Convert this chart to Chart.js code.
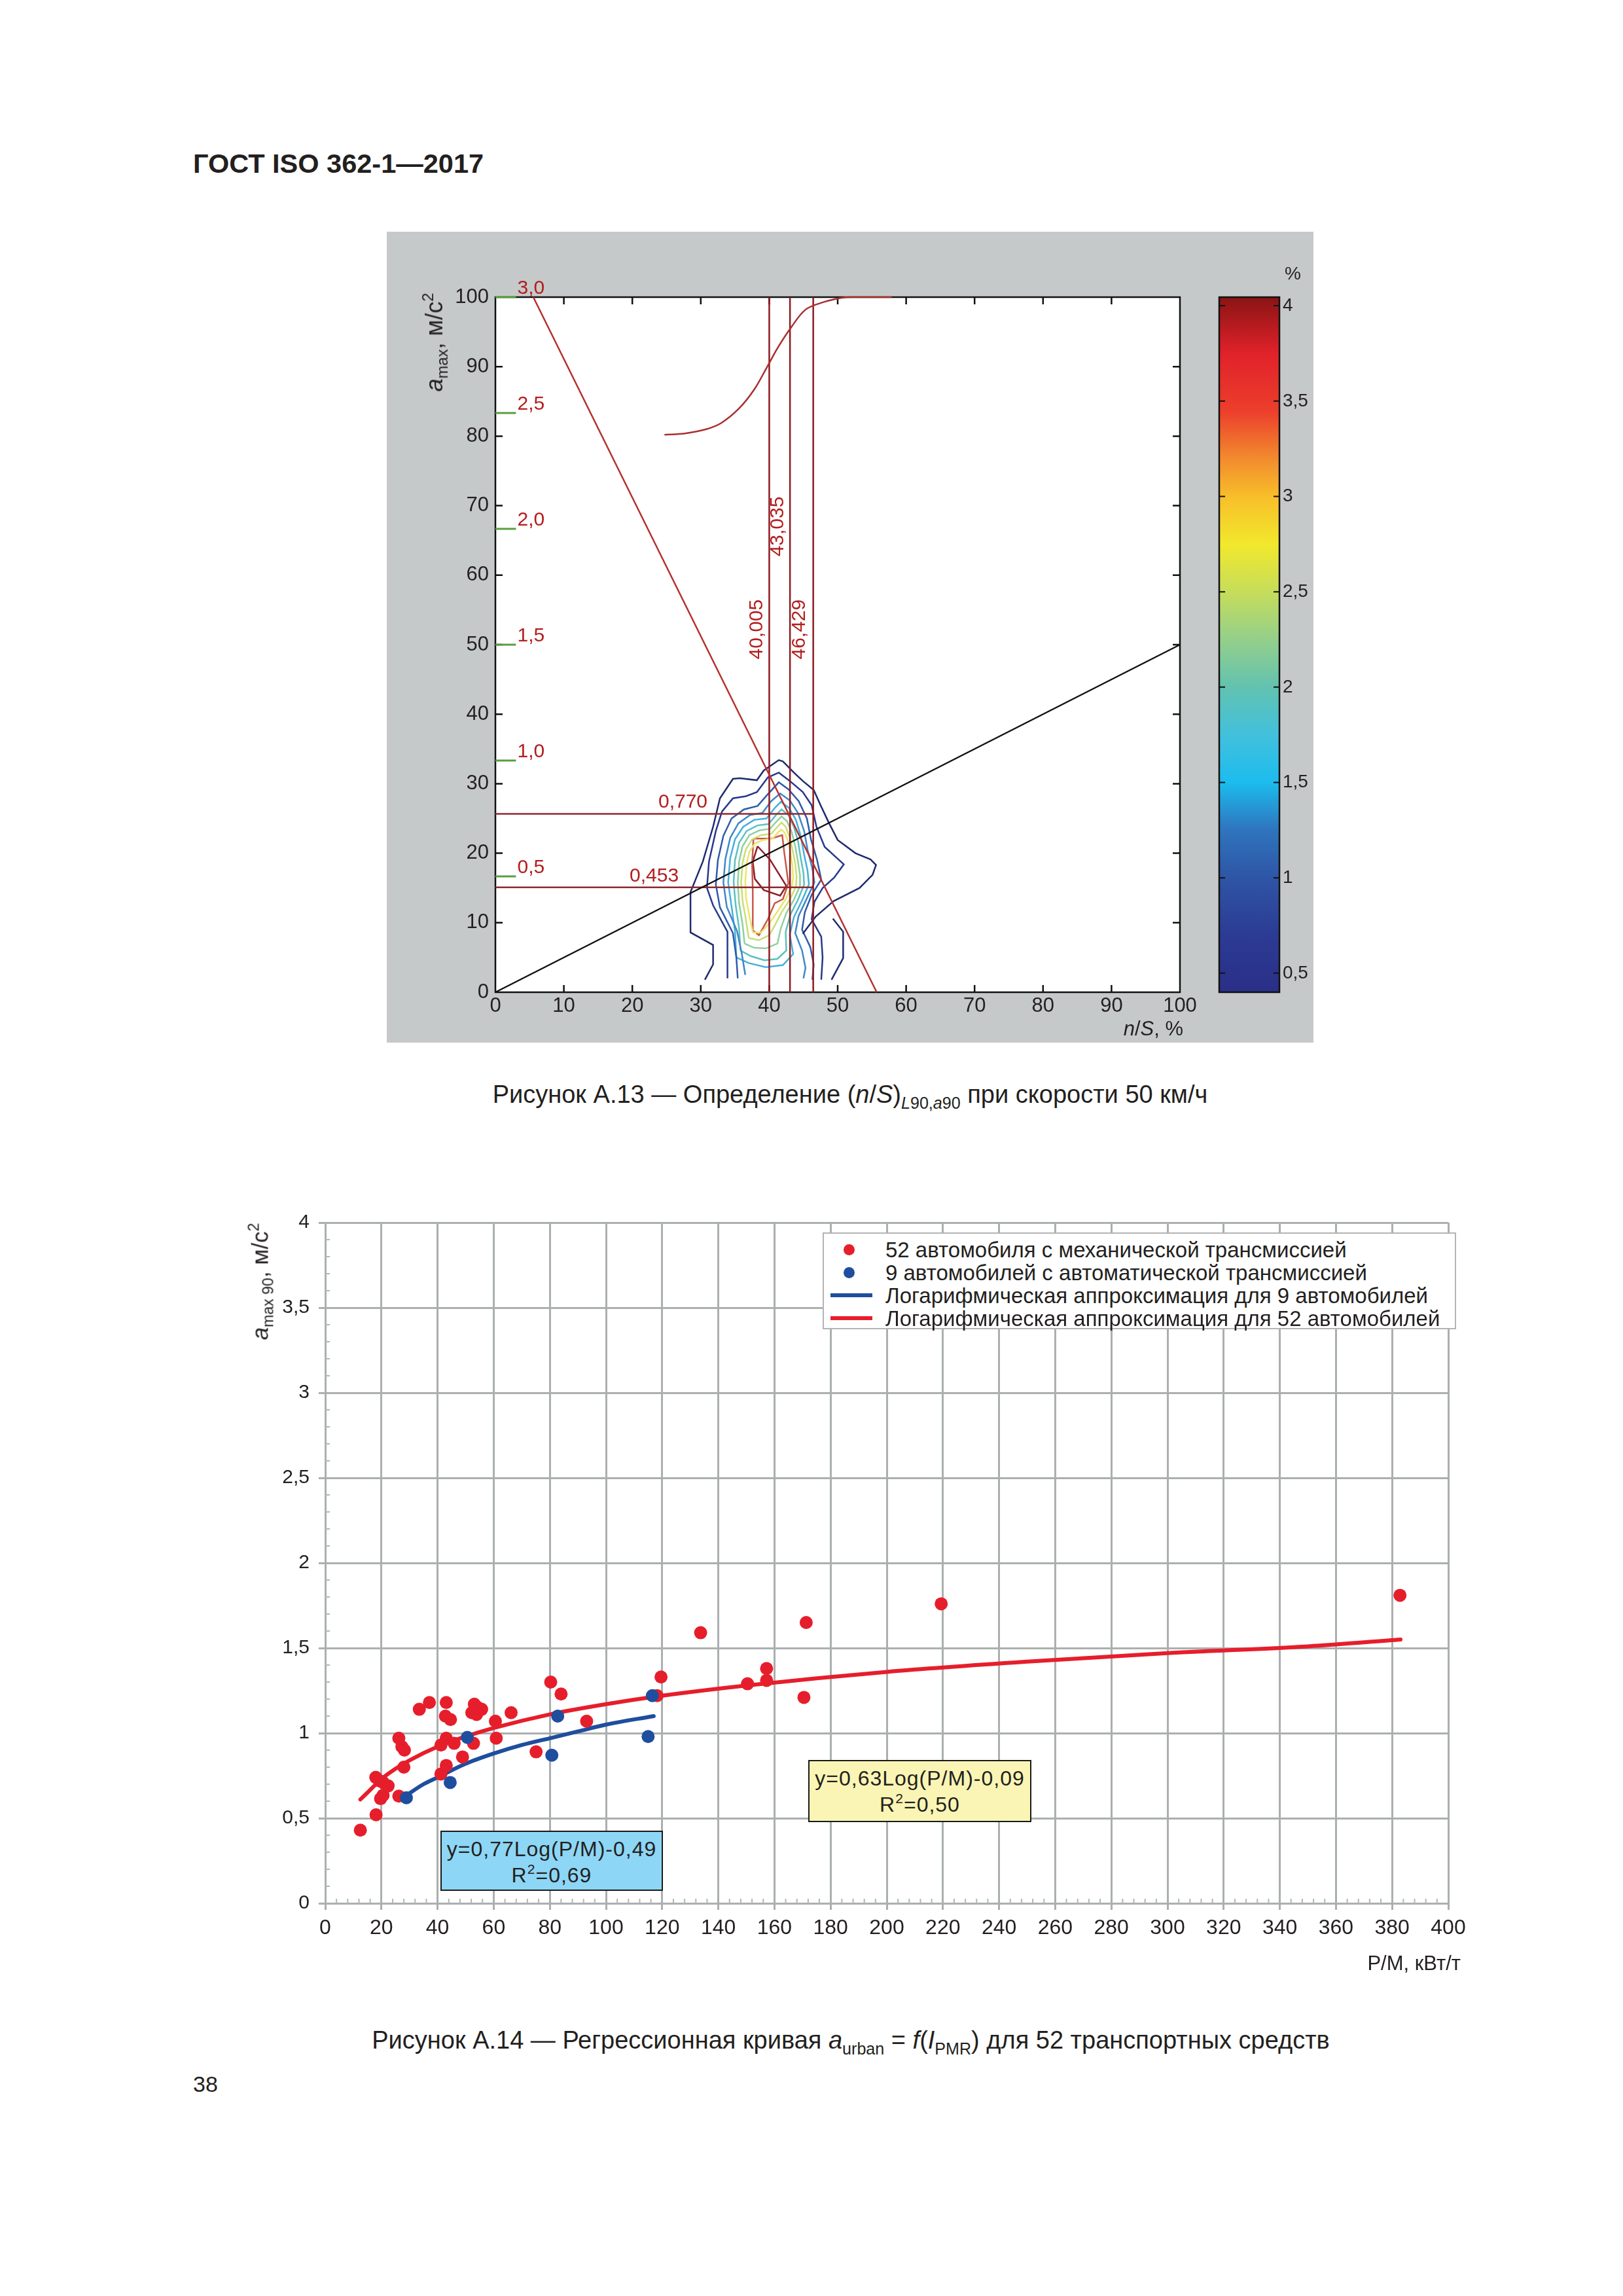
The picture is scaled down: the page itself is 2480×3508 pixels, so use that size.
<!DOCTYPE html>
<html lang="ru"><head><meta charset="utf-8"><title>ГОСТ ISO 362-1—2017</title>
<script src="https://cdn.jsdelivr.net/npm/chart.js@4.4.1/dist/chart.umd.min.js"></script>
<style>
html,body{margin:0;padding:0;background:#fff}
#page{position:relative;width:2480px;height:3508px;overflow:hidden;background:#fff;font-family:"Liberation Sans",Arial,Helvetica,sans-serif;color:#231f20}
.t{position:absolute;white-space:nowrap;line-height:1}
.cw{position:absolute}
.cw canvas{display:block}
sub,sup{font-size:66%;line-height:0;position:relative;vertical-align:baseline}
sub{top:0.35em} sup{top:-0.6em}
.box{position:absolute;box-sizing:border-box;border:2.5px solid #1a1a1a;text-align:center;font-size:32px;line-height:40px;letter-spacing:1px;padding-top:6px;white-space:nowrap}
#legend{position:absolute;left:1257px;top:1883px;width:968px;height:148px;box-sizing:border-box;border:2px solid #b4b4b4;background:#fff}
#legend .row{position:absolute;left:94px;font-size:33px;line-height:1;white-space:nowrap}
#legend .dot{position:absolute;left:30px;width:17px;height:17px;border-radius:50%}
#legend .ln{position:absolute;left:10px;width:64px;height:6px}
</style></head><body><div id="page">

<div class="t" style="left:295px;top:229px;font-size:41.5px;font-weight:bold">ГОСТ ISO 362-1—2017</div>

<div class="cw" style="left:591px;top:354px;width:1416px;height:1239px"><canvas id="figA13"></canvas></div>
<div class="cw" style="left:1830px;top:380px;width:177px;height:1213px"><canvas id="figA13bar"></canvas></div>
<div class="t" style="left:664px;top:523px;font-size:36px;transform:translate(-50%,-50%) rotate(-90deg)"><i>a</i><sub>max</sub>, м/с<sup>2</sup></div>
<div class="t" style="right:672px;top:1556px;font-size:31px"><i>n</i>/<i>S</i>, %</div>
<div class="t" style="left:1963px;top:404px;font-size:28px">%</div>
<div class="t" style="left:1299px;top:1653px;font-size:38px;transform:translateX(-50%)">Рисунок А.13 — Определение (<i>n</i>/<i>S</i>)<sub><i>L</i>90,<i>a</i>90</sub> при скорости 50 км/ч</div>

<div class="cw" style="left:300px;top:1800px;width:1960px;height:1200px"><canvas id="figA14"></canvas></div>
<div class="t" style="left:397px;top:1958px;font-size:35px;transform:translate(-50%,-50%) rotate(-90deg)"><i>a</i><sub>max 90</sub>, м/с<sup>2</sup></div>
<div class="t" style="right:248px;top:2984px;font-size:31px">P/M, кВт/т</div>

<div id="legend">
  <span class="dot" style="top:16px;background:#e61e2b"></span><div class="row" style="top:8px">52 автомобиля с механической трансмиссией</div>
  <span class="dot" style="top:51px;background:#1f4e9e"></span><div class="row" style="top:43px">9 автомобилей с автоматической трансмиссией</div>
  <span class="ln" style="top:91px;background:#1f4e9e"></span><div class="row" style="top:78px">Логарифмическая аппроксимация для 9 автомобилей</div>
  <span class="ln" style="top:126px;background:#e61e2b"></span><div class="row" style="top:113px">Логарифмическая аппроксимация для 52 автомобилей</div>
</div>

<div class="box" style="left:1235px;top:2689px;width:341px;height:95px;background:#faf5b4">y=0,63Log(P/M)-0,09<br>R<sup>2</sup>=0,50</div>
<div class="box" style="left:673px;top:2797px;width:340px;height:92px;background:#8dd6f5">y=0,77Log(P/M)-0,49<br>R<sup>2</sup>=0,69</div>

<div class="t" style="left:1300px;top:3098px;font-size:38px;transform:translateX(-50%)">Рисунок А.14 — Регрессионная кривая <i>a</i><sub>urban</sub> = <i>f</i>(<i>I</i><sub>PMR</sub>) для 52 транспортных средств</div>
<div class="t" style="left:295px;top:3167px;font-size:34px">38</div>
</div>

<script>
// ================= Figure A.13 data =================
const nsTicks = [0, 10, 20, 30, 40, 50, 60, 70, 80, 90, 100];
const amaxTicks = [0, 10, 20, 30, 40, 50, 60, 70, 80, 90, 100];
const accelValues = [0.5, 1.0, 1.5, 2.0, 2.5, 3.0];          // м/с², 3,0 ↔ 100 on the left axis
const accelLabels = ['0,5', '1,0', '1,5', '2,0', '2,5', '3,0'];
const markerXs = [40.005, 43.035, 46.429];
const markerLabels = ['40,005', '43,035', '46,429'];
const levelValues = [0.770, 0.453];
const levelLabels = ['0,770', '0,453'];
const diagX = [5.54, 55.7];
const diagY = [100, 0];
const refX = [0, 100];
const refY = [0, 50];
const sCurveX = [24.7, 27.7, 30.8, 33.0, 35.6, 37.8, 39.6, 41.3, 43.1, 45.3, 48.0, 50.6, 51.9, 57.9];
const sCurveY = [80.2, 80.4, 81.0, 81.9, 84.0, 86.7, 89.8, 92.8, 95.5, 98.2, 99.3, 99.9, 100, 100];

const contour1 = [[30.6,1.8],[31.8,4.0],[31.8,6.8],[28.5,8.6],[28.5,14.4],[30.3,18.8],[31.8,23.8],[32.8,27.9],[34.7,30.7],[35.7,30.8],[38.2,30.5],[39.2,31.9],[41.4,33.4],[42.0,33.2],[43.6,31.6],[44.9,30.4],[46.5,29.1],[47.5,26.9],[48.7,24.4],[50.0,21.9],[52.6,20.0],[54.8,19.1],[55.6,18.3],[55.1,16.9],[53.2,15.0],[49.4,13.1],[46.8,10.9],[44.9,8.4]];
const contour1b = [[49.1,1.8],[50.8,4.9],[50.8,8.7],[49.3,10.6]];
const contour2 = [[33.9,2.0],[33.9,5.5],[33.9,8.7],[31.8,12.5],[30.9,15.0],[31.2,18.8],[32.2,23.2],[33.1,26.0],[34.7,27.9],[36.6,28.2],[38.2,28.8],[39.8,30.9],[41.4,31.6],[43.0,30.4],[44.9,28.8],[46.2,26.9],[46.9,23.8],[48.1,20.9],[50.9,18.4],[49.5,16.5],[47.8,15.0],[46.6,13.0],[46.2,10.5],[47.6,8.0],[47.8,5.0],[47.6,1.8]];
const contour3 = [[35.4,2.0],[35.2,5.0],[34.7,8.5],[32.8,12.2],[32.2,15.5],[32.5,19.0],[33.3,22.5],[34.5,25.0],[36.3,26.3],[38.3,26.8],[39.8,28.5],[41.4,30.2],[42.8,29.2],[44.3,27.5],[45.5,25.0],[46.1,22.0],[47.0,19.0],[47.6,16.2],[46.2,14.0],[45.2,11.5],[44.8,9.0],[46.0,6.5],[46.5,4.0],[46.3,1.8]];
const contour4 = [[36.5,2.5],[36.0,5.5],[35.3,8.8],[33.8,12.3],[33.3,15.8],[33.6,19.2],[34.3,22.2],[35.5,24.3],[37.2,25.5],[39.0,25.8],[40.3,27.5],[41.6,28.6],[43.0,27.6],[44.2,25.8],[45.1,23.2],[45.6,20.5],[46.3,17.8],[46.6,15.8],[45.5,13.5],[44.3,11.0],[43.8,8.5],[44.8,6.0],[45.3,3.5],[45.0,2.0]];
const contour5 = [[35.2,5.0],[35.0,8.8],[34.5,12.3],[34.0,15.8],[34.3,19.3],[35.0,22.0],[36.2,23.8],[37.8,24.8],[39.6,25.0],[40.8,26.5],[41.7,27.4],[42.9,26.5],[43.9,24.8],[44.6,22.5],[45.1,19.8],[45.6,17.5],[45.8,15.5],[44.8,13.2],[43.6,10.8],[43.0,8.3],[43.5,5.5],[42.0,3.9],[39.5,3.6],[37.0,4.2],[35.2,5.0]];
const contour6 = [[35.8,6.0],[35.6,9.2],[35.1,12.5],[34.8,15.8],[35.0,19.0],[35.6,21.5],[36.7,23.2],[38.3,24.0],[39.9,24.2],[41.0,25.5],[41.8,26.3],[42.8,25.5],[43.6,23.8],[44.2,21.8],[44.6,19.3],[45.0,17.2],[45.1,15.5],[44.2,13.3],[43.1,11.2],[42.4,8.7],[42.5,6.0],[41.2,4.8],[39.3,4.6],[37.3,5.2],[35.8,6.0]];
const contour7 = [[36.4,7.0],[36.1,9.8],[35.6,12.8],[35.4,15.8],[35.6,18.8],[36.1,21.0],[37.1,22.6],[38.6,23.3],[40.1,23.5],[41.1,24.6],[41.8,25.3],[42.6,24.6],[43.3,23.0],[43.8,21.0],[44.2,18.8],[44.5,16.8],[44.5,15.3],[43.6,13.3],[42.5,11.4],[41.7,9.2],[41.2,7.0],[39.5,6.3],[37.8,6.4],[36.4,7.0]];
const contour8 = [[37.0,7.8],[36.6,10.4],[36.1,13.2],[35.9,15.8],[36.1,18.6],[36.6,20.6],[37.5,22.0],[38.8,22.6],[40.3,22.8],[41.2,23.8],[41.8,24.4],[42.4,23.8],[43.0,22.3],[43.4,20.5],[43.8,18.5],[44.0,16.6],[43.9,15.2],[43.0,13.3],[41.8,11.5],[40.8,9.6],[40.0,8.2],[38.5,7.5],[37.0,7.8]];
const contour9 = [[37.6,8.6],[37.1,11.0],[36.6,13.6],[36.5,16.0],[36.7,18.5],[37.1,20.2],[37.9,21.4],[39.1,21.9],[40.5,22.1],[41.3,23.0],[41.8,23.4],[42.3,22.9],[42.8,21.6],[43.1,20.0],[43.4,18.2],[43.5,16.5],[43.3,15.2],[42.4,13.4],[41.2,11.6],[40.0,9.9],[38.8,8.6],[37.6,8.6]];
const contour10 = [[37.7,22.1],[40.3,22.1],[41.9,22.6],[42.2,20.1],[42.8,15.7],[42.0,13.4],[40.8,12.8],[39.8,10.5],[38.5,8.2],[37.6,8.9],[37.6,14.3],[37.5,18.5],[37.7,22.1]];
const contour11 = [[38.3,21.0],[40.1,19.1],[42.5,15.3],[41.6,13.9],[39.2,14.7],[37.9,16.3],[37.6,18.8],[38.3,21.0]];
const contourColors = ['#1f2b6e','#1f2b6e','#26398c','#2f5aa8','#3f88c8','#45b0dc','#5cc0c0','#8fd0a0','#c8df78','#ece56a','#c8584a','#8e1f2a'];

const colorbarTicks = [0.5, 1, 1.5, 2, 2.5, 3, 3.5, 4];
const colorbarStops = [0.4, 0.7, 1.0, 1.25, 1.5, 1.75, 2.0, 2.25, 2.5, 2.75, 3.0, 3.2, 3.45, 3.75, 4.045];
const colorbarColors = ['#2a2f86','#2c3b94','#2e55a6','#2f74bd','#1cbcee','#42c0dc','#62c2b0','#94cf8a','#c6dd5a','#f2e82c','#f8be2a','#f28a2e','#ec3e2c','#e0222a','#8a1414'];
const colorbarMin = 0.4, colorbarMax = 4.045;

// ================= Figure A.14 data =================
const pmrTicks = [0,20,40,60,80,100,120,140,160,180,200,220,240,260,280,300,320,340,360,380,400];
const accTicks = [0, 0.5, 1, 1.5, 2, 2.5, 3, 3.5, 4];
const manualPMR = [12.5,18.1,19.7,20.6,18.0,19.3,20.6,22.4,26.2,26.2,27.3,28.2,28.0,33.5,37.1,43.1,42.8,44.6,43.1,41.2,45.9,41.2,43.1,48.9,52.8,52.2,53.9,54.4,55.7,53.1,60.6,60.9,66.2,75.1,80.3,84.0,93.1,118.2,119.6,133.7,150.4,157.2,157.2,170.5,171.3,219.4,382.8];
const manualAcc = [0.43,0.52,0.615,0.635,0.74,0.72,0.71,0.69,0.63,0.97,0.92,0.90,0.80,1.14,1.18,1.18,1.10,1.08,0.97,0.93,0.94,0.76,0.81,0.86,0.94,1.12,1.11,1.15,1.14,1.17,1.07,0.97,1.12,0.89,1.30,1.23,1.07,1.22,1.33,1.59,1.29,1.38,1.31,1.21,1.65,1.76,1.81];
const autoPMR = [28.9, 44.5, 50.6, 80.7, 82.8, 115.0, 116.5];
const autoAcc = [0.62, 0.71, 0.975, 0.87, 1.10, 0.98, 1.22];
const manualFitPMR = [12.5, 15, 20, 25, 30, 40, 50, 60, 80, 100, 120, 150, 200, 250, 300, 350, 383];
const manualFitAcc = [0.61, 0.65, 0.73, 0.79, 0.84, 0.92, 0.98, 1.03, 1.11, 1.17, 1.22, 1.28, 1.36, 1.42, 1.47, 1.51, 1.55];
const autoFitPMR = [28.5, 35, 40, 50, 60, 70, 80, 90, 100, 117];
const autoFitAcc = [0.63, 0.70, 0.74, 0.82, 0.88, 0.93, 0.97, 1.01, 1.05, 1.10];

// ================= helpers =================
const FONT = '"Liberation Sans", Arial, Helvetica, sans-serif';
Chart.defaults.font.family = FONT;
Chart.defaults.color = '#231f20';
const comma = v => String(v).replace('.', ',');
const pts = (xs, ys) => xs.map((x, i) => ({x: x, y: ys[i]}));
const pairPts = arr => arr.map(p => ({x: p[0], y: p[1]}));
const lineDs = (data, color, width, order, extra) => Object.assign({
  data: data, showLine: true, borderColor: color, backgroundColor: color, borderWidth: width,
  pointRadius: 0, pointHoverRadius: 0, order: order, clip: false, tension: 0
}, extra || {});
const RED_TXT = '#b41e1e';
const clamp01 = v => Math.min(1, Math.max(0, v));

// ================= Figure A.13 =================
const toAxis = a => a / 3 * 100;
const contours = [contour1, contour1b, contour2, contour3, contour4, contour5, contour6, contour7, contour8, contour9, contour10, contour11];
const a13Datasets = [];
a13Datasets.push(lineDs(pts(refX, refY), '#111111', 2.5, 1));
a13Datasets.push(lineDs(pts(diagX, diagY), '#b3312f', 2.5, 2));
a13Datasets.push(lineDs(pts(sCurveX, sCurveY), '#a8302e', 2.5, 3, {tension: 0.35}));
markerXs.forEach(x => a13Datasets.push(lineDs(pts([x, x], [0, 100]), '#8e1b22', 2.5, 4)));
levelValues.forEach(v => a13Datasets.push(lineDs(pts([0, markerXs[2]], [toAxis(v), toAxis(v)]), '#8e2a2e', 2.5, 5)));
accelValues.forEach(a => a13Datasets.push(lineDs(pts([0, 3], [toAxis(a), toAxis(a)]), '#5a9e3e', 3, 0)));
contours.forEach((c, i) => a13Datasets.push(lineDs(pairPts(c), contourColors[i], 2.5, 10 + i)));

const a13Decor = {
  id: 'a13Decor',
  beforeDraw(chart) {
    const c = chart.ctx, a = chart.chartArea;
    c.save();
    c.fillStyle = '#c6c9c9';
    c.fillRect(0, 0, chart.width, chart.height);
    c.fillStyle = '#ffffff';
    c.fillRect(a.left, a.top, a.right - a.left, a.bottom - a.top);
    c.restore();
  },
  beforeDatasetsDraw(chart) {
    const c = chart.ctx, a = chart.chartArea, xs = chart.scales.x, ys = chart.scales.y;
    c.save();
    c.strokeStyle = '#111'; c.lineWidth = 2.5;
    c.strokeRect(a.left, a.top, a.right - a.left, a.bottom - a.top);
    c.beginPath();
    nsTicks.slice(1, -1).forEach(v => {
      const px = xs.getPixelForValue(v);
      c.moveTo(px, a.bottom); c.lineTo(px, a.bottom - 11);
      c.moveTo(px, a.top); c.lineTo(px, a.top + 11);
    });
    amaxTicks.slice(1, -1).forEach(v => {
      const py = ys.getPixelForValue(v);
      c.moveTo(a.left, py); c.lineTo(a.left + 11, py);
      c.moveTo(a.right, py); c.lineTo(a.right - 11, py);
    });
    c.stroke();
    c.restore();
  },
  afterDatasetsDraw(chart) {
    const c = chart.ctx, xs = chart.scales.x, ys = chart.scales.y;
    c.save();
    c.fillStyle = RED_TXT;
    c.font = '30px ' + FONT;
    c.textAlign = 'left'; c.textBaseline = 'alphabetic';
    accelValues.forEach((a, i) => c.fillText(accelLabels[i], xs.getPixelForValue(3.2), ys.getPixelForValue(toAxis(a)) - 5));
    const levelLabelX = [23.8, 19.6];
    levelValues.forEach((v, i) => c.fillText(levelLabels[i], xs.getPixelForValue(levelLabelX[i]), ys.getPixelForValue(toAxis(v)) - 9));
    const markerLabelPos = [[38.25, 52.2], [41.3, 67.0], [44.45, 52.2]];
    markerLabels.forEach((t, i) => {
      c.save();
      c.translate(xs.getPixelForValue(markerLabelPos[i][0]), ys.getPixelForValue(markerLabelPos[i][1]));
      c.rotate(-Math.PI / 2);
      c.textAlign = 'center'; c.textBaseline = 'middle';
      c.fillText(t, 0, 0);
      c.restore();
    });
    c.restore();
  }
};

new Chart(document.getElementById('figA13'), {
  type: 'scatter',
  data: {datasets: a13Datasets},
  options: {
    responsive: true, maintainAspectRatio: false, animation: false, devicePixelRatio: 1,
    events: [],
    layout: {padding: {left: 96, top: 100, right: 204, bottom: 27}},
    plugins: {legend: {display: false}, tooltip: {enabled: false}},
    scales: {
      x: {
        type: 'linear', min: 0, max: 100,
        afterBuildTicks: s => { s.ticks = nsTicks.map(v => ({value: v})); },
        afterFit: s => { s.height = 50; },
        grid: {display: false, drawTicks: false}, border: {display: false},
        ticks: {padding: 3, color: '#231f20', font: {size: 31}, maxRotation: 0, autoSkip: false}
      },
      y: {
        type: 'linear', min: 0, max: 100,
        afterBuildTicks: s => { s.ticks = amaxTicks.map(v => ({value: v})); },
        afterFit: s => { s.width = 70; },
        grid: {display: false, drawTicks: false}, border: {display: false},
        ticks: {padding: 10, color: '#231f20', font: {size: 31}, autoSkip: false}
      }
    }
  },
  plugins: [a13Decor]
});

// colour bar
const barDecor = {
  id: 'barDecor',
  afterDatasetsDraw(chart) {
    const c = chart.ctx, a = chart.chartArea, ys = chart.scales.y;
    c.save();
    c.strokeStyle = '#111'; c.lineWidth = 2.5;
    c.strokeRect(a.left, a.top, a.right - a.left, a.bottom - a.top);
    c.lineWidth = 2;
    c.beginPath();
    colorbarTicks.forEach(v => {
      const py = ys.getPixelForValue(v);
      c.moveTo(a.left, py); c.lineTo(a.left + 9, py);
      c.moveTo(a.right, py); c.lineTo(a.right - 9, py);
    });
    c.stroke();
    c.restore();
  }
};
new Chart(document.getElementById('figA13bar'), {
  type: 'bar',
  data: {
    labels: ['%'],
    datasets: [{
      data: [[colorbarMin, colorbarMax]],
      barPercentage: 1, categoryPercentage: 1, borderWidth: 0,
      backgroundColor: ctx => {
        const chart = ctx.chart, area = chart.chartArea, ys = chart.scales.y;
        if (!area || !ys) return 'rgba(0,0,0,0)';
        const y0 = ys.getPixelForValue(colorbarMin), y1 = ys.getPixelForValue(colorbarMax);
        const g = chart.ctx.createLinearGradient(0, y0, 0, y1);
        colorbarStops.forEach((v, i) => g.addColorStop(clamp01((v - colorbarMin) / (colorbarMax - colorbarMin)), colorbarColors[i]));
        return g;
      }
    }]
  },
  options: {
    responsive: true, maintainAspectRatio: false, animation: false, devicePixelRatio: 1,
    events: [],
    layout: {padding: {left: 33, top: 74, right: 7, bottom: 77}},
    plugins: {legend: {display: false}, tooltip: {enabled: false}},
    scales: {
      x: {display: false},
      y: {
        position: 'right', min: colorbarMin, max: colorbarMax,
        afterBuildTicks: s => { s.ticks = colorbarTicks.map(v => ({value: v})); },
        afterFit: s => { s.width = 45; },
        grid: {display: false, drawTicks: false}, border: {display: false},
        ticks: {padding: 5, color: '#231f20', font: {size: 28}, autoSkip: false, callback: v => comma(v)}
      }
    }
  },
  plugins: [barDecor]
});

// ================= Figure A.14 =================
const GRID = '#abafaf';
const minorTicks = {
  id: 'minorTicks',
  beforeDatasetsDraw(chart) {
    const c = chart.ctx, a = chart.chartArea, xs = chart.scales.x, ys = chart.scales.y;
    c.save();
    c.strokeStyle = '#b2b6b6'; c.lineWidth = 2;
    c.beginPath();
    for (let i = 1; i < 40; i++) {
      if (i % 5 === 0) continue;
      const py = ys.getPixelForValue(i / 10);
      c.moveTo(a.left, py); c.lineTo(a.left + 7, py);
    }
    for (let i = 1; i < 100; i++) {
      if (i % 5 === 0) continue;
      const px = xs.getPixelForValue(i * 4);
      c.moveTo(px, a.bottom); c.lineTo(px, a.bottom - 7);
    }
    c.stroke();
    c.restore();
  }
};

new Chart(document.getElementById('figA14'), {
  type: 'scatter',
  data: {
    datasets: [
      {label: '9 автомобилей с автоматической трансмиссией', data: pts(autoPMR, autoAcc), backgroundColor: '#1f4e9e', borderColor: '#1f4e9e', pointRadius: 10, pointBorderWidth: 0, order: 0},
      {label: '52 автомобиля с механической трансмиссией', data: pts(manualPMR, manualAcc), backgroundColor: '#e61e2b', borderColor: '#e61e2b', pointRadius: 10, pointBorderWidth: 0, order: 1},
      lineDs(pts(autoFitPMR, autoFitAcc), '#1f4e9e', 6, 2, {label: 'Логарифмическая аппроксимация для 9 автомобилей', cubicInterpolationMode: 'monotone', borderCapStyle: 'round'}),
      lineDs(pts(manualFitPMR, manualFitAcc), '#e61e2b', 6, 3, {label: 'Логарифмическая аппроксимация для 52 автомобилей', cubicInterpolationMode: 'monotone', borderCapStyle: 'round'})
    ]
  },
  options: {
    responsive: true, maintainAspectRatio: false, animation: false, devicePixelRatio: 1,
    events: [],
    layout: {padding: {left: 97, top: 68, right: 47, bottom: 32}},
    plugins: {legend: {display: false}, tooltip: {enabled: false}},
    scales: {
      x: {
        type: 'linear', min: 0, max: 400,
        afterBuildTicks: s => { s.ticks = pmrTicks.map(v => ({value: v})); },
        afterFit: s => { s.height = 60; },
        grid: {color: GRID, lineWidth: 3, tickLength: 10, drawTicks: true},
        border: {display: true, color: GRID, width: 3},
        ticks: {padding: 9, color: '#231f20', font: {size: 32}, maxRotation: 0, autoSkip: false}
      },
      y: {
        type: 'linear', min: 0, max: 4,
        afterBuildTicks: s => { s.ticks = accTicks.map(v => ({value: v})); },
        afterFit: s => { s.width = 100; },
        grid: {color: GRID, lineWidth: 3, tickLength: 10, drawTicks: true},
        border: {display: true, color: GRID, width: 3},
        ticks: {padding: 14, color: '#231f20', font: {size: 30}, autoSkip: false, callback: v => comma(v)}
      }
    }
  },
  plugins: [minorTicks]
});
</script>
</body></html>
